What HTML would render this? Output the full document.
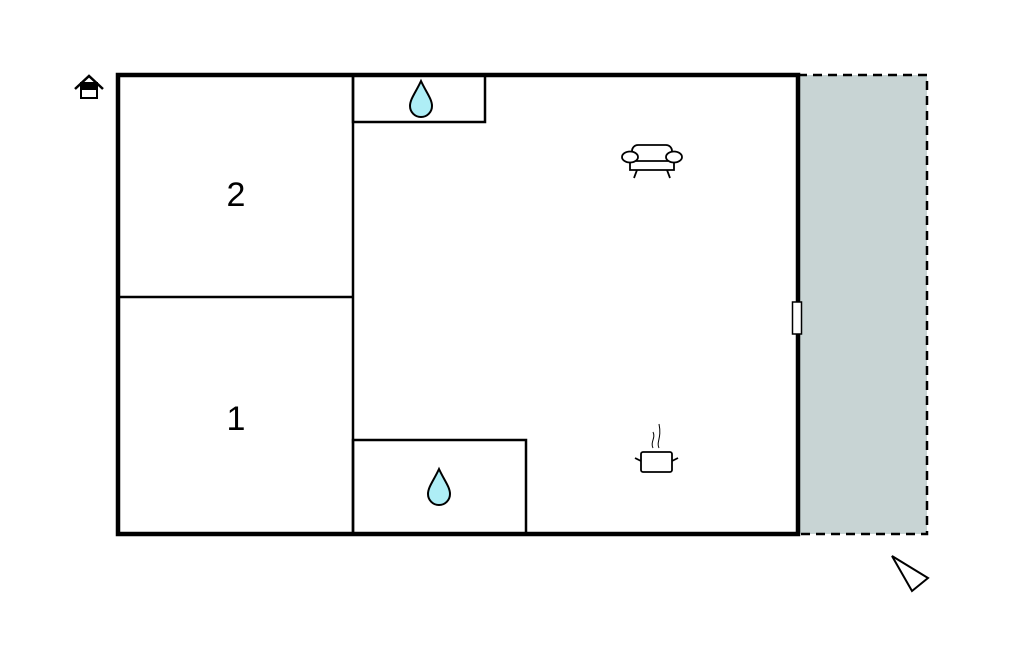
<!DOCTYPE html>
<html><head><meta charset="utf-8"><style>html,body{margin:0;padding:0;background:#fff;}svg{display:block}</style></head>
<body>
<svg width="1024" height="652" viewBox="0 0 1024 652" xmlns="http://www.w3.org/2000/svg">
<rect x="798" y="75" width="129" height="459" fill="#c8d4d4" stroke="#000" stroke-width="2.5" stroke-dasharray="9,6"/>
<rect x="118" y="75" width="680" height="459" fill="#fff" stroke="none"/>
<line x1="353" y1="75" x2="353" y2="534" stroke="#000" stroke-width="2.5"/>
<line x1="118" y1="297" x2="353" y2="297" stroke="#000" stroke-width="2.5"/>
<rect x="353" y="75" width="132" height="47" fill="none" stroke="#000" stroke-width="2.5"/>
<rect x="353" y="440" width="173" height="94" fill="none" stroke="#000" stroke-width="2.5"/>
<rect x="118" y="75" width="680" height="459" fill="none" stroke="#000" stroke-width="4.5"/>
<rect x="792.5" y="302" width="9" height="32" fill="#fff" stroke="#000" stroke-width="1.5"/>
<text x="236" y="206" font-family="Liberation Sans, sans-serif" font-size="34" text-anchor="middle">2</text>
<text x="236" y="430" font-family="Liberation Sans, sans-serif" font-size="34" text-anchor="middle">1</text>
<!-- drops -->
<path d="M421 81 C416 92 410 99 410 106 A11 11 0 0 0 432 106 C432 99 426 92 421 81 Z" fill="#aeeef6" stroke="#000" stroke-width="2"/>
<path d="M439 469 C434 480 428 487 428 494 A11 11 0 0 0 450 494 C450 487 444 480 439 469 Z" fill="#aeeef6" stroke="#000" stroke-width="2"/>
<!-- house icon -->
<path d="M75 89 L89 76 L103 89" fill="none" stroke="#000" stroke-width="2.5"/>
<rect x="81" y="83" width="16" height="15" fill="#fff" stroke="#000" stroke-width="2"/>
<rect x="81" y="83" width="16" height="7" fill="#000"/>
<!-- sofa -->
<g fill="#fff" stroke="#000" stroke-width="1.8">
<rect x="632" y="145" width="40" height="18" rx="6"/>
<line x1="637" y1="170" x2="634" y2="178"/>
<line x1="667" y1="170" x2="670" y2="178"/>
<path d="M630 160 L630 170 L674 170 L674 160"/>
<line x1="636" y1="161" x2="668" y2="161"/>
<ellipse cx="630" cy="157" rx="8" ry="5.5"/>
<ellipse cx="674" cy="157" rx="8" ry="5.5"/>
</g>
<!-- pot -->
<g fill="none" stroke="#000" stroke-width="1.8">
<rect x="641" y="452" width="31" height="20" rx="2" fill="#fff"/>
<line x1="635" y1="458" x2="641" y2="461"/>
<line x1="678" y1="458" x2="672" y2="461"/>
<path d="M653 448 C650 442 656 438 653 432" stroke-width="1"/>
<path d="M659 448 C656 442 662 438 659 424" stroke-width="1"/>
</g>
<!-- north arrow -->
<polygon points="892,556 928,578 912,591" fill="#fff" stroke="#000" stroke-width="2"/>
</svg>
</body></html>
